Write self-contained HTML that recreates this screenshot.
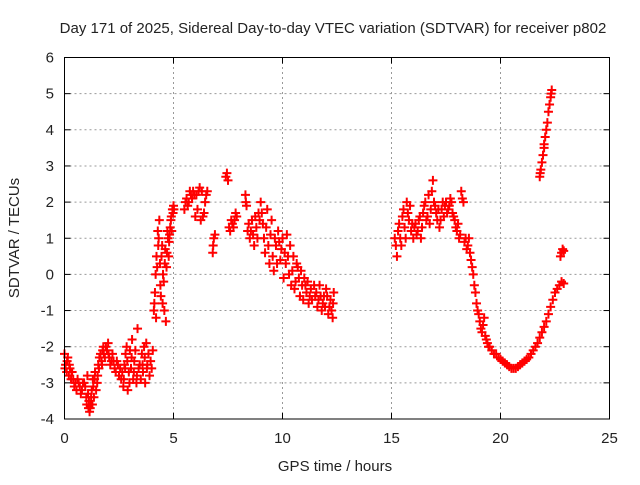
<!DOCTYPE html>
<html><head><meta charset="utf-8"><style>
body{margin:0;background:#fff}
svg text{font-family:"Liberation Sans",sans-serif;fill:#222}
</style></head><body>
<svg id="chart" width="640" height="480" viewBox="0 0 640 480" xmlns="http://www.w3.org/2000/svg">
<rect width="640" height="480" fill="#fff"/>
<text x="333" y="33" font-size="15" text-anchor="middle">Day 171 of 2025, Sidereal Day-to-day VTEC variation (SDTVAR) for receiver p802</text>
<text x="335" y="471" font-size="15" text-anchor="middle">GPS time / hours</text>
<text transform="translate(19,238) rotate(-90)" font-size="15" text-anchor="middle">SDTVAR / TECUs</text>
<g id="grid"></g><g id="ticks"></g><g id="points"></g>
<rect x="64.5" y="57.5" width="545" height="361.5" fill="none" stroke="#000" stroke-width="1"/>
</svg>
<script>
const xTicks=[0,5,10,15,20,25];
const yTicks=[-4,-3,-2,-1,0,1,2,3,4,5,6];
const timesA=[0.0,0.05,0.1,0.15,0.2,0.25,0.3,0.35,0.4,0.5,0.6,0.7,0.8,0.9,1.0,1.05,1.1,1.15,1.2,1.25,1.3,1.35,1.4,1.5,1.55,1.6,1.7,1.75,1.8,1.9,2.0,2.05,2.1,2.2,2.3,2.4,2.5,2.55,2.6,2.7,2.75,2.8,2.85,2.9,2.95,3.0,3.05,3.1,3.15,3.2,3.3,3.35,3.4,3.5,3.55,3.6,3.65,3.7,3.75,3.8,3.9,4.0,4.05,4.1,4.15,4.2,4.25,4.3,4.35,4.4,4.45,4.5,4.55,4.6,4.65,4.7,4.75,4.8,4.85,4.9,4.95,5.0,5.5,5.6,5.7,5.8,5.9,6.0,6.05,6.1,6.2,6.25,6.3,6.4,6.5,6.8,6.85,6.9,7.4,7.5,7.6,7.7,7.8,7.9,8.3,8.35,8.4,8.5,8.6,8.7,8.8,8.9,9.0,9.1,9.2,9.3,9.4,9.5,9.6,9.7,9.8,9.9,10.0,10.05,10.1,10.2,10.3,10.4,10.5,10.6,10.7,10.8,10.9,11.0,11.1,11.2,11.3,11.5,11.6,11.7,11.8,11.9,12.0,12.1,12.2,12.3,12.35,15.2,15.25,15.3,15.4,15.5,15.6,15.7,15.8,15.9,16.0,16.1,16.2,16.3,16.4,16.5,16.6,16.7,16.8,16.9,17.0,17.1,17.2,17.3,17.4,17.5,17.6,17.7,17.8,17.9,18.0,18.1,18.2,18.3,18.4,18.5,18.6,18.7,18.8,18.9,19.0,19.1,19.2,19.3,19.4,19.5,19.7,19.9,20.1,20.3,20.5,20.7,20.9,21.1,21.3,21.5,21.7,21.9,22.1,22.3,22.5,22.7,22.8,22.75,22.85,21.8,21.9,22.0,22.1,22.2,22.3,22.35];
const valuesA=[-2.2,-2.5,-2.7,-2.3,-2.8,-2.6,-2.9,-2.7,-2.9,-3.0,-2.9,-3.1,-3.2,-3.0,-3.4,-2.8,-3.7,-3.8,-3.6,-3.2,-2.9,-3.4,-2.7,-3.0,-2.5,-2.3,-2.4,-2.1,-2.2,-2.0,-1.9,-2.3,-2.5,-2.2,-2.6,-2.4,-2.8,-2.6,-2.9,-3.1,-2.5,-2.2,-2.0,-3.2,-2.7,-2.1,-2.6,-1.8,-2.9,-2.4,-3.0,-1.5,-2.6,-2.9,-2.2,-2.7,-2.0,-3.0,-1.9,-2.5,-2.8,-2.6,-2.1,-1.0,-0.5,-1.2,0.2,0.8,1.5,-0.3,0.5,-0.8,-0.2,0.3,-1.3,0.6,1.0,0.9,1.3,1.6,1.8,1.9,1.8,2.1,2.0,2.2,2.3,1.6,2.2,1.8,2.4,1.5,2.3,1.7,2.2,0.6,1.0,1.1,2.7,2.6,1.2,1.4,1.5,1.6,2.2,1.9,1.2,1.0,1.5,0.8,1.3,1.7,2.0,1.4,0.6,1.8,0.3,1.5,0.1,0.8,1.2,0.4,1.0,-0.1,0.6,1.1,0.0,-0.3,0.5,-0.2,0.2,-0.6,-0.3,-0.1,-0.5,-0.8,-0.4,-0.6,-0.9,-0.3,-1.0,-0.6,-0.4,-1.1,-0.7,-1.2,-0.5,0.8,0.5,1.2,1.0,1.6,1.3,2.0,1.5,1.2,1.0,1.4,1.2,1.6,1.3,1.9,1.5,2.2,1.8,2.6,1.9,1.5,1.3,1.8,1.6,2.0,1.8,2.1,1.7,1.5,1.2,1.0,2.3,2.0,1.0,0.8,0.6,0.2,-0.3,-0.8,-1.1,-1.5,-1.4,-1.7,-1.9,-2.0,-2.2,-2.3,-2.4,-2.5,-2.6,-2.6,-2.5,-2.4,-2.3,-2.1,-1.9,-1.6,-1.3,-0.9,-0.5,-0.3,-0.2,0.5,0.7,2.7,3.1,3.5,4.0,4.5,4.9,5.1];
const timesB=[21.85,21.95,22.05,22.15,22.25,22.32,21.82,22.0,18.95,19.05,19.15,19.25,19.35,19.45,19.6,19.8,20.0,20.2,20.4,20.6,20.8,21.0,21.2,21.4,21.6,21.8,22.0,22.2,22.4,22.6,22.9,22.8,22.9,15.15,15.35,15.45,15.55,15.65,15.75,15.85,15.95,16.05,16.15,16.25,16.35,16.45,16.55,16.65,16.75,16.85,16.95,17.05,17.15,17.25,17.35,17.45,17.55,17.65,17.75,17.85,17.95,18.05,18.15,18.25,18.35,18.45,18.55,18.65,18.75,18.85,0.02,0.12,0.22,0.32,0.45,0.55,0.65,0.75,0.85,0.95,1.02,1.08,1.12,1.18,1.22,1.28,1.32,1.38,1.45,1.52,1.58,1.65,1.72,1.78,1.85,1.95,2.02,2.15,2.25,2.35,2.45,2.65,2.72,2.78,2.88,2.98,3.08,3.18,3.25,3.32,3.45,3.58,3.68,3.78,3.85,3.95,4.12,4.18,4.22,4.28,4.32,4.38,4.42,4.48,4.52,4.58,4.62,4.68,4.72,4.78,4.82,4.88,4.92,4.98,5.02,5.55,5.65,5.75,5.85,5.95,6.15,6.35,6.45,6.55,6.82,7.45,7.55,7.65,7.75,7.85,8.32,8.45,8.55,8.65,8.75,8.85,8.95,9.05,9.15,9.25,9.35,9.45,9.55,9.65,9.75,9.85,9.95,10.15,10.25,10.35,10.45,10.55,10.65,10.75,10.85,10.95,11.05,11.15,11.25,11.35,11.45,11.55,11.65,11.75,11.85,11.95,12.05,12.15,12.25,12.32];
const valuesB=[2.9,3.3,3.8,4.2,4.7,5.0,2.8,3.6,-1.0,-1.3,-1.6,-1.2,-1.8,-2.0,-2.1,-2.2,-2.35,-2.45,-2.55,-2.6,-2.55,-2.45,-2.35,-2.2,-2.0,-1.75,-1.45,-1.1,-0.7,-0.4,-0.25,0.6,0.65,1.0,1.4,0.8,1.8,1.0,1.7,1.9,1.4,1.3,1.1,1.5,1.0,1.7,2.0,1.6,1.4,2.3,2.0,1.7,1.8,1.5,2.0,1.9,1.7,1.9,2.0,1.6,1.3,1.4,1.1,2.1,0.9,0.7,1.0,0.4,0.0,-0.5,-2.6,-2.4,-2.5,-2.7,-3.1,-3.2,-3.0,-3.3,-3.0,-3.1,-3.6,-3.3,-3.5,-3.7,-3.4,-3.6,-3.1,-2.9,-3.2,-2.8,-2.6,-2.2,-2.5,-2.0,-2.3,-2.1,-2.2,-2.4,-2.4,-2.7,-2.5,-2.7,-2.9,-2.6,-2.4,-3.0,-2.3,-2.7,-2.1,-2.8,-2.5,-2.5,-2.3,-2.6,-2.2,-2.4,-0.8,0.0,0.5,1.2,1.0,0.3,-0.6,0.8,0.0,-1.0,0.7,0.2,1.2,0.5,1.1,1.5,1.2,1.7,1.8,2.0,1.9,2.3,2.1,2.2,2.3,1.6,2.0,2.3,0.8,2.8,1.3,1.5,1.3,1.7,2.0,1.4,1.2,1.1,1.6,1.0,1.5,1.7,1.0,1.3,0.8,1.1,0.5,1.0,0.3,0.9,0.7,0.3,0.5,0.8,0.1,-0.4,0.3,-0.1,0.1,-0.7,-0.3,-0.2,-0.6,-0.7,-0.3,-0.5,-0.7,-0.6,-0.8,-0.9,-0.6,-0.9,-1.0,-0.8];
const X0=64.5,X1=609.5,Y0=419,Y1=57.5,xMin=0,xMax=25,yMin=-4,yMax=6;
const xs=v=>X0+(v-xMin)/(xMax-xMin)*(X1-X0);
const ys=v=>Y0-(v-yMin)/(yMax-yMin)*(Y0-Y1);
const NS="http://www.w3.org/2000/svg";
const g=document.getElementById('grid'),t=document.getElementById('ticks'),p=document.getElementById('points');
function mk(tag,a,parent){const e=document.createElementNS(NS,tag);for(const k in a)e.setAttribute(k,a[k]);parent.appendChild(e);return e;}
xTicks.forEach(v=>{const x=xs(v);
 if(v>xMin&&v<xMax){const l=mk('line',{x1:x,x2:x,y1:Y0,y2:Y1,stroke:'#999','stroke-dasharray':'2,3'},g);
 
 }
 mk('line',{x1:x,x2:x,y1:Y0,y2:Y0-6,stroke:'#000'},t);mk('line',{x1:x,x2:x,y1:Y1,y2:Y1+6,stroke:'#000'},t);
 const tx=mk('text',{x:x,y:443,'font-size':15,'text-anchor':'middle'},t);tx.textContent=v;
 
 });
yTicks.forEach(v=>{const y=ys(v);
 if(v>yMin&&v<yMax){const l=mk('line',{x1:X0,x2:X1,y1:y,y2:y,stroke:'#999','stroke-dasharray':'2,3'},g);
 
 }
 mk('line',{x1:X0,x2:X0+6,y1:y,y2:y,stroke:'#000'},t);mk('line',{x1:X1,x2:X1-6,y1:y,y2:y,stroke:'#000'},t);
 const tx=mk('text',{x:54,y:y+5,'font-size':15,'text-anchor':'end'},t);tx.textContent=v;
 
 });
function drawSeries(ts,vs){ts.forEach((tv,i)=>{const x=xs(tv),y=ys(vs[i]);
 const e=mk('path',{d:`M${x-4.5},${y}h9M${x},${y-4.5}v9`,stroke:'#f00','stroke-width':2,fill:'none'},p);
 
 });}
drawSeries(timesA,valuesA);
drawSeries(timesB,valuesB);
</script>
</body></html>
